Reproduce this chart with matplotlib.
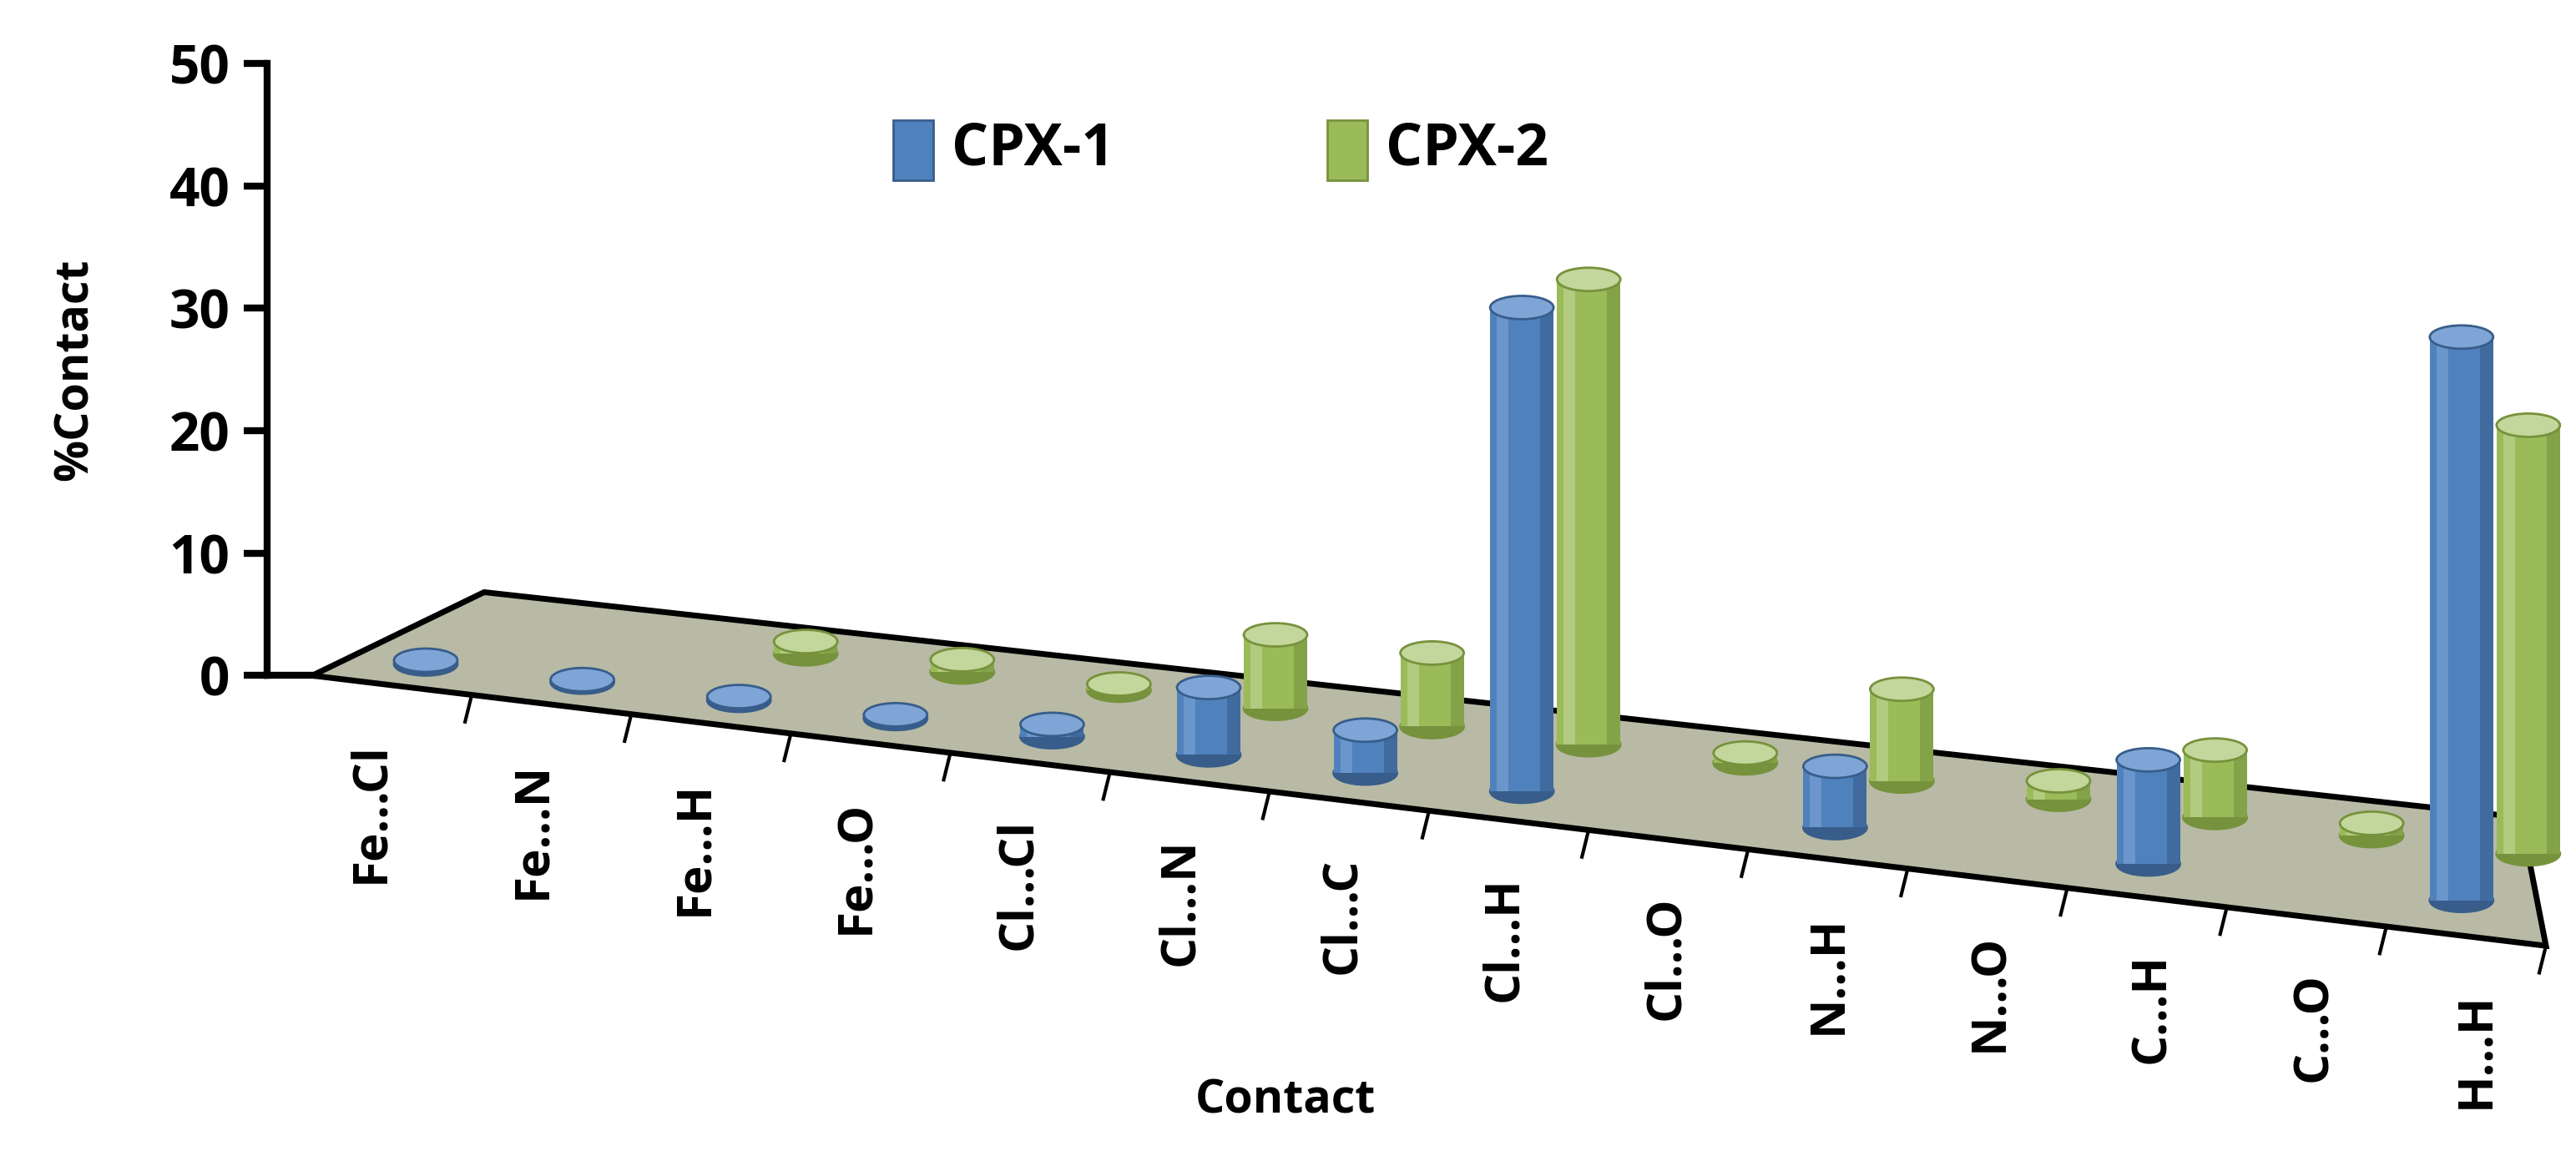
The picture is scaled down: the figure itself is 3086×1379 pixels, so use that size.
import numpy as np
import matplotlib
matplotlib.use("Agg")
import matplotlib.pyplot as plt
from matplotlib.patches import Rectangle, Ellipse, Polygon

plt.rcParams["font.family"] = ["Open Sans", "DejaVu Sans"]
plt.rcParams["font.weight"] = "bold"

contacts = ["Fe...Cl", "Fe...N", "Fe...H", "Fe...O", "Cl...Cl", "Cl...N", "Cl...C",
            "Cl...H", "Cl...O", "N...H", "N...O", "C...H", "C...O", "H...H"]
cpx1 = [0.3, 0.2, 0.3, 0.3, 1.0, 5.5, 3.5, 39.5, 0.0, 5.0, 0.0, 8.5, 0.0, 46.0]
cpx2 = [0.0, 0.0, 1.0, 1.0, 0.5, 6.0, 6.0, 38.0, 0.8, 7.5, 1.5, 5.5, 1.0, 35.0]
yticks = [0, 10, 20, 30, 40, 50]

BLUE, BLUE_D, BLUE_L = "#4f81bd", "#385d8a", "#7fa5d6"
GREEN, GREEN_D, GREEN_L = "#9bbb59", "#76923c", "#c3d69b"

PX = 7.34          # half-image pixels per % unit
def u(py):         # half-image pixel row -> value units
    return (405 - py) / PX

fig = plt.figure(figsize=(15.43, 6.895), dpi=200)
ax = fig.add_axes([0, 0, 1, 1])
ax.set_xlim(0, 1543)
ax.set_ylim(u(690), u(0))
for s in ["top", "right", "bottom"]:
    ax.spines[s].set_visible(False)
ax.spines["left"].set_position(("data", 160))
ax.spines["left"].set_bounds(0, 50)
ax.spines["left"].set_linewidth(3)
ax.set_xticks([])
ax.set_yticks(yticks)
ax.tick_params(axis="y", labelsize=23, width=3, length=10, pad=6)
ax.text(45, 25, "%Contact", rotation=90, ha="center", va="center", fontsize=20)
ax.text(770, u(660), "Contact", ha="center", va="center", fontsize=20)

# floor
ax.plot([160, 187], [0, 0], color="black", lw=3)
floor = Polygon([(187, u(405)), (290, u(355)), (1510, u(490)), (1525, u(567))],
                closed=True, facecolor="#b8baa5", edgecolor="black", lw=2.5, zorder=1)
ax.add_patch(floor)

step_x, step_y = 93.8, 10.9
w, eh = 38, 14 / PX
for i, name in enumerate(contacts):
    bx = 255 + step_x * i
    by = u(398 + step_y * i)
    # front-edge tick and label
    tx = 187 + (i + 1) * (1525 - 187) / 14
    ty = u(405 + (567 - 405) * (tx - 187) / (1525 - 187))
    ax.plot([tx, tx - 4], [ty, ty - 2.2], color="black", lw=1.5)
    ax.text(222 + 97 * i, u(445 + 11.5 * i), name, rotation=90, ha="center",
            va="top", fontsize=21)
    for (x0, y0, v, c, cd, cl) in [(bx + 40, by + 3.8, cpx2[i], GREEN, GREEN_D, GREEN_L),
                                   (bx, by, cpx1[i], BLUE, BLUE_D, BLUE_L)]:
        if v <= 0:
            continue
        z = 3 if c == BLUE else 2
        ax.add_patch(Ellipse((x0, y0), w, eh, facecolor=cd, edgecolor=cd, zorder=z))
        if v > 0.4:
            ax.add_patch(Rectangle((x0 - w / 2, y0), w, v, facecolor=c, edgecolor="none", zorder=z))
            ax.add_patch(Rectangle((x0 - w / 2 + 4, y0), 7, v, facecolor=cl, edgecolor="none",
                                   alpha=0.6, zorder=z))
            ax.add_patch(Rectangle((x0 + w / 2 - 8, y0), 8, v, facecolor=cd, edgecolor="none",
                                   alpha=0.6, zorder=z))
        ax.add_patch(Ellipse((x0, y0 + v), w, eh, facecolor=cl, edgecolor=cd, lw=1, zorder=z))

# legend
ax.add_patch(Rectangle((535, u(108)), 24, 36 / PX, facecolor=BLUE, edgecolor=BLUE_D))
ax.text(570, u(90), "CPX-1", va="center", ha="left", fontsize=25)
ax.add_patch(Rectangle((795, u(108)), 24, 36 / PX, facecolor=GREEN, edgecolor=GREEN_D))
ax.text(830, u(90), "CPX-2", va="center", ha="left", fontsize=25)

fig.savefig("out.png", dpi=200)
